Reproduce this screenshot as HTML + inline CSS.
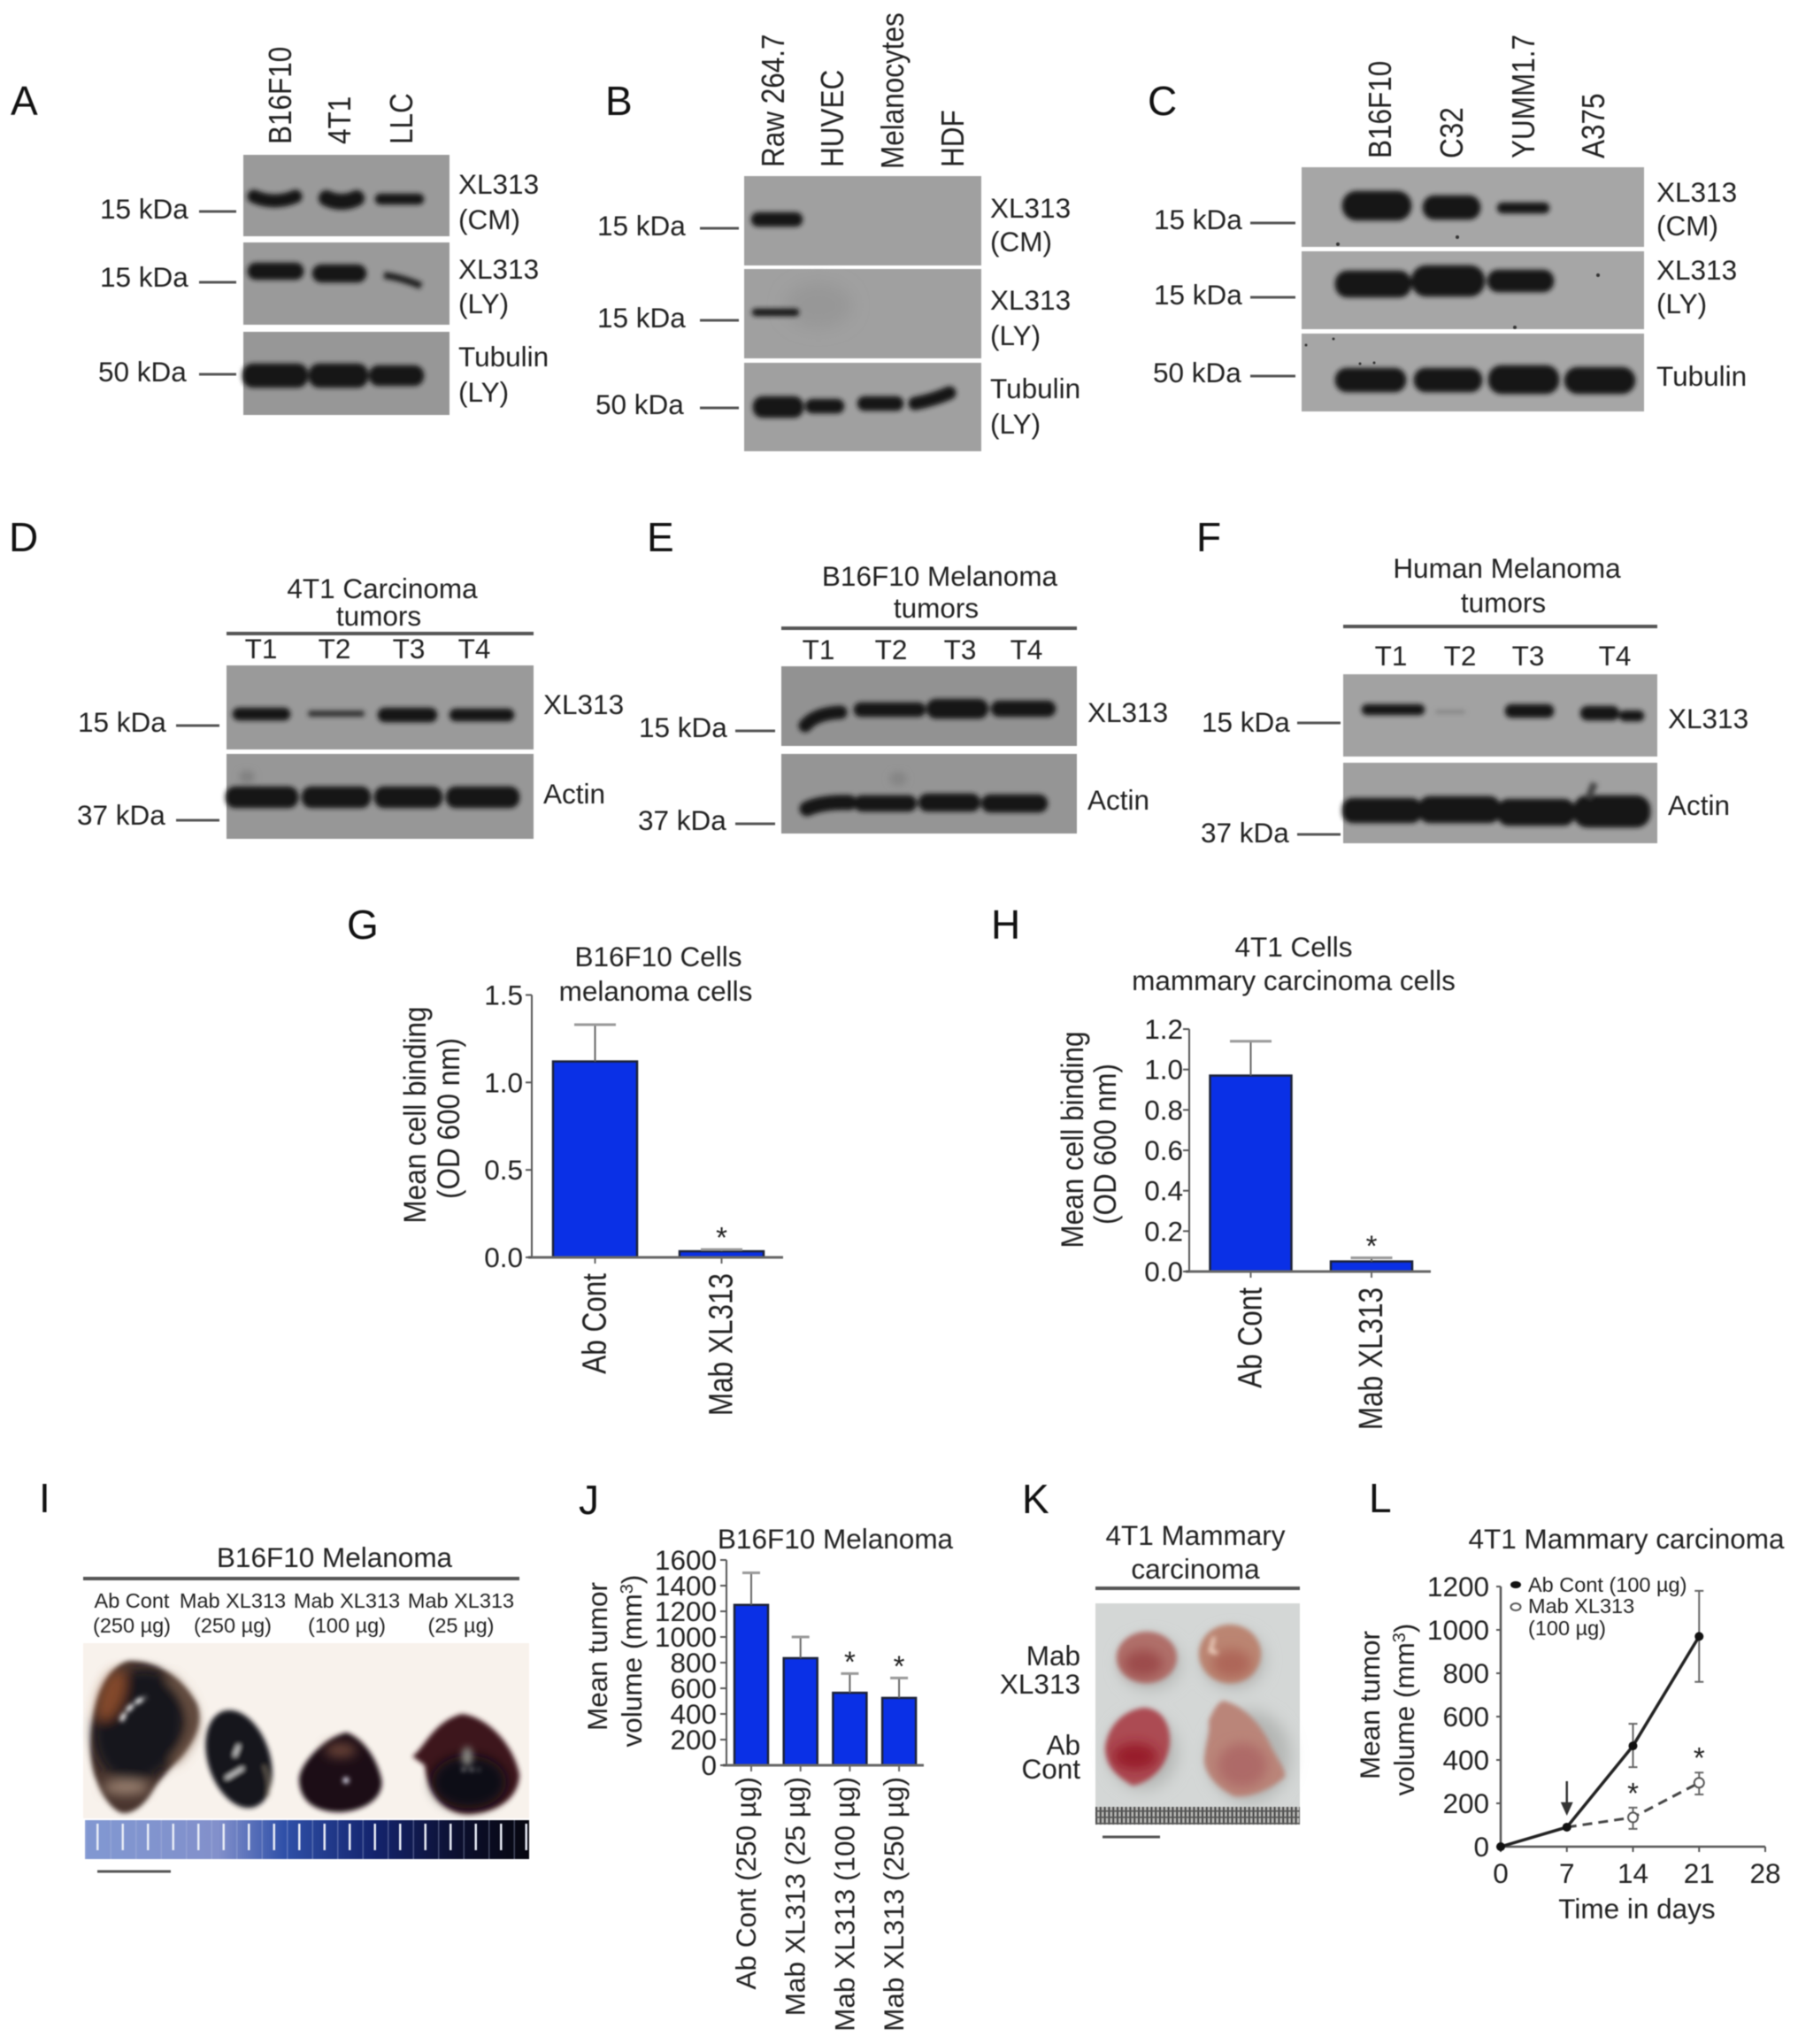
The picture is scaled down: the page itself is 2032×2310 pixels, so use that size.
<!DOCTYPE html>
<html lang="en">
<head>
<meta charset="utf-8">
<title>XL313 figure</title>
<style>
html,body{margin:0;padding:0;background:#fff}
svg{display:block;filter:blur(.6px)}
text{font-family:"Liberation Sans",Arial,sans-serif;fill:#222;font-size:31.5px}
.pl{font-size:46px;fill:#111}
.sm{font-size:23.5px}
.tk{stroke:#555;stroke-width:3;fill:none}
.rl{stroke:#555;stroke-width:4;fill:none}
.bd{fill:#161616;stroke:#161616;stroke-width:2.5}
.fa{fill:#333}
</style>
</head>
<body>
<svg id="figure" xmlns="http://www.w3.org/2000/svg" width="2032" height="2310" viewBox="0 0 2032 2310">
<defs>
<filter id="b2" filterUnits="userSpaceOnUse" x="0" y="0" width="2032" height="2310"><feGaussianBlur stdDeviation="2.6"/></filter>
<filter id="b4" filterUnits="userSpaceOnUse" x="0" y="0" width="2032" height="2310"><feGaussianBlur stdDeviation="4"/></filter>
<filter id="b6" filterUnits="userSpaceOnUse" x="0" y="0" width="2032" height="2310"><feGaussianBlur stdDeviation="6.5"/></filter>
<filter id="b9" filterUnits="userSpaceOnUse" x="0" y="0" width="2032" height="2310"><feGaussianBlur stdDeviation="9"/></filter>
<linearGradient id="rulerGrad" x1="0" x2="1" y1="0" y2="0">
<stop offset="0" stop-color="#8198d2"/><stop offset=".3" stop-color="#8290cb"/><stop offset=".45" stop-color="#2f50a8"/><stop offset=".65" stop-color="#14246e"/><stop offset=".85" stop-color="#0c0f2c"/><stop offset="1" stop-color="#07070f"/>
</linearGradient>
<pattern id="rulerTicks" patternUnits="userSpaceOnUse" x="96" y="2057" width="28.5" height="44">
<rect x="13" y="4" width="2.5" height="30" fill="#e8ecf6"/>
<rect x="0" y="0" width="1.5" height="44" fill="#aeb9e0" opacity=".35"/>
</pattern>
<pattern id="kRuler" patternUnits="userSpaceOnUse" x="1238" y="2042" width="4.8" height="7">
<rect width="4.8" height="7" fill="#b9b9b6"/><rect x="0" width="2" height="7" fill="#444"/><rect y="4" width="4.8" height="1.6" fill="#555"/>
</pattern>
</defs>
<rect width="2032" height="2310" fill="#fff"/>

<!-- Panel A -->
<g>
<text class="pl" x="12" y="130">A</text>
<text transform="translate(329,163) rotate(-90) scale(1,1.15)">B16F10</text>
<text transform="translate(396,163) rotate(-90) scale(1,1.15)">4T1</text>
<text transform="translate(466,163) rotate(-90) scale(1,1.15)">LLC</text>
<rect x="275" y="175" width="233" height="92" fill="#9a9a9a"/>
<rect x="275" y="274" width="233" height="93" fill="#9a9a9a"/>
<rect x="275" y="375" width="233" height="94" fill="#979797"/>
<g filter="url(#b2)">
<path d="M287 222Q310 232 334 222" stroke="#161616" stroke-width="15" stroke-linecap="round" fill="none"/>
<path d="M369 224Q386 232 403 224" stroke="#161616" stroke-width="18" stroke-linecap="round" fill="none"/>
<rect class="bd" x="425" y="220" width="53" height="10" rx="5"/>
<rect class="bd" x="281" y="298" width="61" height="17" rx="8"/>
<rect class="bd" x="354" y="300" width="59" height="18" rx="9"/>
<path d="M434 311 Q455 314 476 323" stroke="#222" stroke-width="8" fill="none"/>
<rect class="bd" x="275" y="412" width="72" height="25" rx="11"/>
<rect class="bd" x="350" y="412" width="65" height="25" rx="11"/>
<rect class="bd" x="418" y="414" width="60" height="21" rx="10"/>
</g>
<text x="113" y="247">15 kDa</text>
<text x="113" y="324">15 kDa</text>
<text x="111" y="431">50 kDa</text>
<path class="tk" d="M225 239H267M225 319H267M225 423H267"/>
<text x="518" y="219">XL313</text>
<text x="518" y="259">(CM)</text>
<text x="518" y="315">XL313</text>
<text x="518" y="354">(LY)</text>
<text x="518" y="414">Tubulin</text>
<text x="518" y="454">(LY)</text>
</g>

<!-- Panel B -->
<g>
<text class="pl" x="684" y="130">B</text>
<text transform="translate(886,189) rotate(-90) scale(1,1.15)">Raw 264.7</text>
<text transform="translate(953,189) rotate(-90) scale(1,1.15)">HUVEC</text>
<text transform="translate(1021,191) rotate(-90) scale(1,1.15)">Melanocytes</text>
<text transform="translate(1089,189) rotate(-90) scale(1,1.15)">HDF</text>
<rect x="841" y="199" width="268" height="101" fill="#a0a0a0"/>
<rect x="841" y="304" width="268" height="101" fill="#a0a0a0"/>
<rect x="841" y="410" width="268" height="100" fill="#a0a0a0"/>
<ellipse cx="925" cy="345" rx="38" ry="26" fill="#979797" filter="url(#b9)"/>
<g filter="url(#b2)">
<rect class="bd" x="850" y="241" width="56" height="14" rx="7"/>
<rect class="bd" x="851" y="350" width="51" height="6" rx="3"/>
<rect class="bd" x="852" y="449" width="55" height="22" rx="10"/>
<rect class="bd" x="911" y="452" width="42" height="14" rx="7"/>
<rect class="bd" x="970" y="449" width="50" height="14" rx="7"/>
<path d="M1034 456 Q1055 452 1073 444" stroke="#161616" stroke-width="15" stroke-linecap="round" fill="none"/>
</g>
<text x="675" y="266">15 kDa</text>
<text x="675" y="370">15 kDa</text>
<text x="673" y="468">50 kDa</text>
<path class="tk" d="M791 258H835M791 362H835M791 461H835"/>
<text x="1119" y="246">XL313</text>
<text x="1119" y="284">(CM)</text>
<text x="1119" y="350">XL313</text>
<text x="1119" y="390">(LY)</text>
<text x="1119" y="450">Tubulin</text>
<text x="1119" y="490">(LY)</text>
</g>

<!-- Panel C -->
<g>
<text class="pl" x="1297" y="130">C</text>
<text transform="translate(1572,179) rotate(-90) scale(1,1.15)">B16F10</text>
<text transform="translate(1653,179) rotate(-90) scale(1,1.15)">C32</text>
<text transform="translate(1734,179) rotate(-90) scale(1,1.15)">YUMM1.7</text>
<text transform="translate(1813,179) rotate(-90) scale(1,1.15)">A375</text>
<rect x="1471" y="189" width="387" height="90" fill="#a6a6a6"/>
<rect x="1471" y="284" width="387" height="88" fill="#a6a6a6"/>
<rect x="1471" y="377" width="387" height="88" fill="#a6a6a6"/>
<g filter="url(#b2)">
<rect class="bd" x="1518" y="217" width="76" height="31" rx="15"/>
<rect class="bd" x="1609" y="222" width="63" height="25" rx="12"/>
<rect class="bd" x="1693" y="230" width="57" height="10" rx="5"/>
<rect class="bd" x="1510" y="307" width="84" height="28" rx="13"/>
<rect class="bd" x="1596" y="301" width="81" height="33" rx="16"/>
<rect class="bd" x="1682" y="306" width="73" height="23" rx="11"/>
<rect class="bd" x="1510" y="417" width="78" height="25" rx="12"/>
<rect class="bd" x="1599" y="417" width="75" height="25" rx="12"/>
<rect class="bd" x="1683" y="414" width="78" height="30" rx="14"/>
<rect class="bd" x="1769" y="416" width="78" height="28" rx="14"/>
</g>
<g fill="#333">
<circle cx="1512" cy="276" r="2"/>
<circle cx="1647" cy="268" r="2"/>
<circle cx="1806" cy="311" r="2"/>
<circle cx="1712" cy="370" r="2"/>
<circle cx="1476" cy="390" r="1.5"/>
<circle cx="1507" cy="383" r="1.5"/>
<circle cx="1553" cy="410" r="1.5"/>
<circle cx="1537" cy="411" r="1.5"/>
</g>
<text x="1304" y="259">15 kDa</text>
<text x="1304" y="344">15 kDa</text>
<text x="1303" y="432">50 kDa</text>
<path class="tk" d="M1413 252H1464M1413 336H1464M1413 425H1464"/>
<text x="1872" y="228">XL313</text>
<text x="1872" y="266">(CM)</text>
<text x="1872" y="316">XL313</text>
<text x="1872" y="354">(LY)</text>
<text x="1872" y="436">Tubulin</text>
</g>

<!-- Panel D -->
<g>
<text class="pl" x="10" y="623">D</text>
<text x="432" y="676" text-anchor="middle">4T1 Carcinoma</text>
<text x="428" y="707" text-anchor="middle">tumors</text>
<path class="rl" d="M256 716H603"/>
<text x="295" y="744" text-anchor="middle">T1</text>
<text x="378" y="744" text-anchor="middle">T2</text>
<text x="462" y="744" text-anchor="middle">T3</text>
<text x="536" y="744" text-anchor="middle">T4</text>
<rect x="256" y="752" width="347" height="95" fill="#9a9a9a"/>
<rect x="256" y="852" width="347" height="96" fill="#979797"/>
<ellipse cx="279" cy="878" rx="9" ry="7" fill="#808080" filter="url(#b4)"/>
<g filter="url(#b2)">
<rect class="bd" x="264" y="801" width="63" height="12" rx="6"/>
<rect class="fa" x="348" y="803" width="64" height="7" rx="3"/>
<rect class="bd" x="428" y="801" width="65" height="14" rx="7"/>
<rect class="bd" x="509" y="802" width="71" height="12" rx="6"/>
<rect class="bd" x="256" y="890" width="80" height="22" rx="10"/>
<rect class="bd" x="342" y="890" width="76" height="22" rx="10"/>
<rect class="bd" x="424" y="890" width="75" height="22" rx="10"/>
<rect class="bd" x="505" y="890" width="81" height="22" rx="10"/>
</g>
<text x="88" y="827">15 kDa</text>
<text x="87" y="932">37 kDa</text>
<path class="tk" d="M199 820H248M199 927H248"/>
<text x="614" y="807">XL313</text>
<text x="614" y="908">Actin</text>
</g>

<!-- Panel E -->
<g>
<text class="pl" x="731" y="623">E</text>
<text x="1062" y="662" text-anchor="middle">B16F10 Melanoma</text>
<text x="1058" y="698" text-anchor="middle">tumors</text>
<path class="rl" d="M883 710H1217"/>
<text x="925" y="745" text-anchor="middle">T1</text>
<text x="1007" y="745" text-anchor="middle">T2</text>
<text x="1085" y="745" text-anchor="middle">T3</text>
<text x="1160" y="745" text-anchor="middle">T4</text>
<rect x="883" y="753" width="334" height="90" fill="#929292"/>
<rect x="883" y="852" width="334" height="90" fill="#959595"/>
<ellipse cx="1015" cy="880" rx="10" ry="8" fill="#858585" filter="url(#b4)"/>
<g filter="url(#b2)">
<path d="M910 820 Q922 806 950 805" stroke="#161616" stroke-width="15" stroke-linecap="round" fill="none"/>
<rect class="bd" x="966" y="795" width="79" height="14" rx="7"/>
<rect class="bd" x="1048" y="791" width="68" height="20" rx="10"/>
<rect class="bd" x="1121" y="793" width="71" height="16" rx="8"/>
<path d="M912 914 Q930 906 960 907" stroke="#161616" stroke-width="17" stroke-linecap="round" fill="none"/>
<rect class="bd" x="966" y="900" width="69" height="16" rx="8"/>
<rect class="bd" x="1039" y="898" width="68" height="18" rx="9"/>
<rect class="bd" x="1110" y="899" width="73" height="18" rx="9"/>
</g>
<text x="722" y="833">15 kDa</text>
<text x="721" y="938">37 kDa</text>
<path class="tk" d="M831 826H876M831 931H876"/>
<text x="1229" y="816">XL313</text>
<text x="1229" y="915">Actin</text>
</g>

<!-- Panel F -->
<g>
<text class="pl" x="1352" y="623">F</text>
<text x="1703" y="653" text-anchor="middle">Human Melanoma</text>
<text x="1699" y="692" text-anchor="middle">tumors</text>
<path class="rl" d="M1518 708H1873"/>
<text x="1572" y="752" text-anchor="middle">T1</text>
<text x="1650" y="752" text-anchor="middle">T2</text>
<text x="1727" y="752" text-anchor="middle">T3</text>
<text x="1825" y="752" text-anchor="middle">T4</text>
<rect x="1518" y="762" width="355" height="93" fill="#a2a2a2"/>
<rect x="1518" y="862" width="355" height="91" fill="#a0a0a0"/>
<g filter="url(#b2)">
<rect class="bd" x="1540" y="797" width="69" height="10" rx="5"/>
<rect x="1622" y="803" width="34" height="3" rx="1.5" fill="#7a7a7a"/>
<rect class="bd" x="1702" y="797" width="53" height="13" rx="6"/>
<rect class="bd" x="1787" y="799" width="42" height="14" rx="7"/>
<rect class="bd" x="1831" y="804" width="26" height="10" rx="5"/>
<rect class="bd" x="1518" y="903" width="88" height="26" rx="11"/>
<rect class="bd" x="1604" y="901" width="91" height="28" rx="12"/>
<rect class="bd" x="1693" y="904" width="86" height="28" rx="12"/>
<rect class="bd" x="1779" y="900" width="85" height="34" rx="15"/>
<path d="M1795 902L1802 885" stroke="#444" stroke-width="8" fill="none"/>
</g>
<text x="1358" y="827">15 kDa</text>
<text x="1357" y="952">37 kDa</text>
<path class="tk" d="M1466 817H1515M1466 943H1515"/>
<text x="1885" y="823">XL313</text>
<text x="1885" y="921">Actin</text>
</g>

<!-- Panel G static labels -->
<g>
<text class="pl" x="392" y="1061">G</text>
<text x="744" y="1092" text-anchor="middle">B16F10 Cells</text>
<text x="741" y="1131" text-anchor="middle">melanoma cells</text>
<text text-anchor="middle" transform="translate(481,1260) rotate(-90) scale(1,1.12)">Mean cell binding</text>
<text text-anchor="middle" transform="translate(519,1264) rotate(-90) scale(1,1.12)">(OD 600 nm)</text>
</g>
<g id="chart-g"></g>

<!-- Panel H static labels -->
<g>
<text class="pl" x="1120" y="1061">H</text>
<text x="1462" y="1081" text-anchor="middle">4T1 Cells</text>
<text x="1462" y="1119" text-anchor="middle">mammary carcinoma cells</text>
<text text-anchor="middle" transform="translate(1224,1288) rotate(-90) scale(1,1.12)">Mean cell binding</text>
<text text-anchor="middle" transform="translate(1261,1293) rotate(-90) scale(1,1.12)">(OD 600 nm)</text>
</g>
<g id="chart-h"></g>

<!-- Panel I -->
<g>
<text class="pl" x="44" y="1709">I</text>
<text x="378" y="1771" text-anchor="middle">B16F10 Melanoma</text>
<path class="rl" d="M94 1784H587" stroke="#333"/>
<text class="sm" x="149" y="1817" text-anchor="middle">Ab Cont</text>
<text class="sm" x="149" y="1845" text-anchor="middle">(250 µg)</text>
<text class="sm" x="263" y="1817" text-anchor="middle">Mab XL313</text>
<text class="sm" x="263" y="1845" text-anchor="middle">(250 µg)</text>
<text class="sm" x="392" y="1817" text-anchor="middle">Mab XL313</text>
<text class="sm" x="392" y="1845" text-anchor="middle">(100 µg)</text>
<text class="sm" x="521" y="1817" text-anchor="middle">Mab XL313</text>
<text class="sm" x="521" y="1845" text-anchor="middle">(25 µg)</text>
<rect x="94" y="1857" width="504" height="198" fill="#f8f2ec"/>
<g>
<path filter="url(#b2)" d="M146 1877C175 1876 205 1895 222 1925C230 1945 222 1965 205 1985C190 2000 180 2012 172 2025C160 2045 145 2052 135 2048C120 2040 112 2020 108 2010C100 1990 102 1960 105 1945C108 1915 125 1880 146 1877Z" fill="#4a362e"/>
<g filter="url(#b6)">
<ellipse cx="157" cy="1950" rx="50" ry="64" transform="rotate(15 157 1950)" fill="#12121a"/>
<ellipse cx="126" cy="1916" rx="13" ry="30" transform="rotate(20 126 1916)" fill="#84482a"/>
<path d="M190 1895Q224 1925 220 1955Q212 1978 195 1992" stroke="#8a6d58" stroke-width="6" fill="none"/>
<ellipse cx="142" cy="2020" rx="26" ry="8" fill="#9a8070"/>
</g>
<path filter="url(#b2)" d="M137 1945Q143 1928 165 1918" stroke="#ffffff" stroke-width="5" stroke-dasharray="10 3" fill="none"/>
</g>
<g filter="url(#b2)">
<ellipse cx="270" cy="1988" rx="35" ry="57" transform="rotate(-18 270 1988)" fill="#15141e"/>
<path d="M255 2010L275 1998M265 1985L270 1972" stroke="#eee" stroke-width="3" fill="none"/>
<path d="M298 1995Q306 2015 302 2030" stroke="#6c6458" stroke-width="3" fill="none"/>
</g>
<g>
<path filter="url(#b2)" d="M392 1958C410 1965 425 1985 431 2010C435 2030 415 2046 385 2048C355 2048 338 2035 338 2010C340 1990 370 1962 392 1958Z" fill="#1c1016"/>
<ellipse filter="url(#b6)" cx="385" cy="1978" rx="18" ry="8" fill="#6c4438"/>
<circle filter="url(#b2)" cx="391" cy="2012" r="3.5" fill="#eef"/>
</g>
<g>
<path filter="url(#b2)" d="M522 1937C550 1940 580 1970 587 2005C587 2030 565 2048 530 2050C500 2050 483 2025 480 1995L466 1985C480 1975 490 1945 522 1937Z" fill="#3c161c"/>
<ellipse filter="url(#b6)" cx="530" cy="2014" rx="42" ry="30" fill="#100e16"/>
<ellipse filter="url(#b4)" cx="528" cy="1985" rx="6" ry="11" fill="#8a8a84"/>
<path filter="url(#b2)" d="M522 2000H542" stroke="#ddd" stroke-width="2.5" stroke-dasharray="4 5" fill="none"/>
</g>
<rect x="96" y="2057" width="502" height="44" fill="url(#rulerGrad)"/>
<rect x="96" y="2057" width="502" height="44" fill="url(#rulerTicks)"/>
<path class="tk" d="M110 2115H193"/>
</g>

<!-- Panel J static labels -->
<g>
<text class="pl" x="654" y="1711">J</text>
<text x="944" y="1750" text-anchor="middle">B16F10 Melanoma</text>
<text text-anchor="middle" transform="translate(686,1872) rotate(-90)">Mean tumor</text>
<text text-anchor="middle" transform="translate(725,1877) rotate(-90)">volume (mm<tspan dy="-10" style="font-size:20px">3</tspan><tspan dy="10">)</tspan></text>
</g>
<g id="chart-j"></g>

<!-- Panel K -->
<g>
<text class="pl" x="1155" y="1710">K</text>
<text x="1351" y="1746" text-anchor="middle">4T1 Mammary</text>
<text x="1351" y="1784" text-anchor="middle">carcinoma</text>
<path class="rl" d="M1238 1795H1469"/>
<rect x="1238" y="1812" width="231" height="230" fill="#d4d7d6"/>
<g filter="url(#b9)" fill="#b4b6b4">
<ellipse cx="1300" cy="1880" rx="34" ry="29"/>
<ellipse cx="1394" cy="1876" rx="35" ry="32"/>
<ellipse cx="1292" cy="1980" rx="38" ry="42"/>
<ellipse cx="1412" cy="1985" rx="46" ry="52"/>
</g>
<g filter="url(#b2)">
<ellipse cx="1296" cy="1873" rx="34" ry="29" fill="#b0706a"/>
<ellipse cx="1390" cy="1869" rx="35" ry="33" fill="#bb8572"/>
<path d="M1292 1930C1310 1930 1323 1945 1322 1970C1320 1995 1300 2015 1280 2018C1262 2008 1250 1995 1249 1975C1252 1950 1270 1933 1292 1930Z" fill="#ac4c52"/>
<path d="M1382 1922C1400 1925 1425 1945 1437 1975C1445 1990 1453 2000 1452 2008C1440 2020 1415 2032 1395 2030C1375 2020 1362 2005 1361 1990C1362 1970 1368 1960 1366 1945C1370 1935 1375 1925 1382 1922Z" fill="#ba8579"/>
</g>
<g filter="url(#b6)">
<ellipse cx="1292" cy="1880" rx="22" ry="15" fill="#9c4c4c"/>
<ellipse cx="1392" cy="1880" rx="22" ry="16" fill="#ae6658"/>
<ellipse cx="1283" cy="1985" rx="25" ry="15" fill="#981f2a"/>
<ellipse cx="1404" cy="1995" rx="28" ry="25" fill="#ae6a68"/>
</g>
<path filter="url(#b2)" d="M1372 1850L1368 1866L1376 1868" stroke="#f8e0d0" stroke-width="3.5" fill="none"/>
<rect x="1238" y="2042" width="231" height="20" fill="url(#kRuler)"/>
<path class="tk" d="M1246 2076H1311"/>
<text x="1221" y="1882" text-anchor="end">Mab</text>
<text x="1221" y="1914" text-anchor="end">XL313</text>
<text x="1221" y="1983" text-anchor="end">Ab</text>
<text x="1221" y="2010" text-anchor="end">Cont</text>
</g>

<!-- Panel L static labels -->
<g>
<text class="pl" x="1547" y="1709">L</text>
<text x="1838" y="1750" text-anchor="middle">4T1 Mammary carcinoma</text>
<text text-anchor="middle" transform="translate(1559,1927) rotate(-90)">Mean tumor</text>
<text text-anchor="middle" transform="translate(1598,1932) rotate(-90)">volume (mm<tspan dy="-10" style="font-size:20px">3</tspan><tspan dy="10">)</tspan></text>
<text x="1850" y="2168" text-anchor="middle">Time in days</text>
<ellipse cx="1713" cy="1791" rx="6" ry="4" fill="#111"/>
<text class="sm" x="1727" y="1799">Ab Cont (100 µg)</text>
<ellipse cx="1713" cy="1816" rx="5.5" ry="4" fill="#fff" stroke="#555" stroke-width="2"/>
<text class="sm" x="1727" y="1823">Mab XL313</text>
<text class="sm" x="1727" y="1848">(100 µg)</text>
</g>
<g id="chart-l"></g>
</svg>

<script>
const gCategories = ['Ab Cont', 'Mab XL313'];
const gMeans = [1.12, 0.035];
const gErrorTops = [1.33, 0.045];
const gStars = [false, true];
const gTickValues = [0, 0.5, 1, 1.5];
const gTickLabels = ['0.0', '0.5', '1.0', '1.5'];

const hCategories = ['Ab Cont', 'Mab XL313'];
const hMeans = [0.97, 0.05];
const hErrorTops = [1.14, 0.068];
const hStars = [false, true];
const hTickValues = [0, 0.2, 0.4, 0.6, 0.8, 1, 1.2];
const hTickLabels = ['0.0', '0.2', '0.4', '0.6', '0.8', '1.0', '1.2'];

const jCategories = ['Ab Cont (250 µg)', 'Mab XL313 (25 µg)', 'Mab XL313 (100 µg)', 'Mab XL313 (250 µg)'];
const jMeans = [1250, 835, 565, 525];
const jErrorTops = [1500, 1000, 715, 680];
const jStars = [false, false, true, true];
const jTickValues = [0, 200, 400, 600, 800, 1000, 1200, 1400, 1600];
const jTickLabels = ['0', '200', '400', '600', '800', '1000', '1200', '1400', '1600'];

const lDays = [0, 7, 14, 21];
const lControl = [0, 90, 465, 970];
const lControlLow = [0, 90, 367, 760];
const lControlHigh = [0, 90, 567, 1180];
const lMab = [0, 90, 135, 295];
const lMabLow = [0, 90, 82, 241];
const lMabHigh = [0, 90, 180, 342];
const lStars = [false, false, true, true];
const lXTicks = [0, 7, 14, 21, 28];
const lYTicks = [0, 200, 400, 600, 800, 1000, 1200];

const NS = 'http://www.w3.org/2000/svg';

function make(tag, attrs, parent) {
  const el = document.createElementNS(NS, tag);
  for (const k in attrs) el.setAttribute(k, attrs[k]);
  parent.appendChild(el);
  return el;
}

function drawBarChart(id, cfg, categories, means, errorTops, stars, tickValues, tickLabels) {
  const root = document.getElementById(id);
  const y = v => cfg.y0 - v * cfg.yScale;
  const x = i => cfg.firstCenter + i * cfg.step;

  means.forEach((m, i) => {
    const bar = make('rect', { x: x(i) - cfg.barWidth / 2, y: y(m), width: cfg.barWidth, height: cfg.y0 - y(m), fill: '#0a30e6', stroke: '#1c2238', 'stroke-width': 2.5 }, root);
    
    

    const stem = make('line', { x1: x(i), x2: x(i), y1: y(m), y2: y(errorTops[i]), stroke: '#666', 'stroke-width': 2 }, root);
    
    

    const cap = make('line', { x1: x(i) - cfg.capWidth / 2, x2: x(i) + cfg.capWidth / 2, y1: y(errorTops[i]), y2: y(errorTops[i]), stroke: '#999', 'stroke-width': 3 }, root);
    
    

    const tick = make('line', { x1: x(i), x2: x(i), y1: cfg.y0, y2: cfg.y0 + 7, stroke: '#666', 'stroke-width': 2 }, root);
    
    

    const label = make('text', { transform: 'translate(' + (x(i) + cfg.labelOffset) + ',' + (cfg.y0 + cfg.labelGap) + ') rotate(-90) scale(1,' + cfg.labelStretch + ')', 'text-anchor': 'end' }, root);
    
    
    label.textContent = categories[i];

    if (stars[i]) {
      const star = make('text', { x: x(i), y: y(errorTops[i]) - 2, 'text-anchor': 'middle' }, root);
      
      
      star.textContent = '*';
      star.style.fontSize = '33px';
    }
  });

  const yAxis = make('line', { x1: cfg.x0, x2: cfg.x0, y1: cfg.y0, y2: y(tickValues[tickValues.length - 1]), stroke: '#555', 'stroke-width': 2 }, root);
  
  

  const xAxis = make('line', { x1: cfg.x0 - 4, x2: cfg.xEnd, y1: cfg.y0, y2: cfg.y0, stroke: '#666', 'stroke-width': 3 }, root);
  
  

  tickValues.forEach((v, i) => {
    const tick = make('line', { x1: cfg.x0 - 7, x2: cfg.x0, y1: y(v), y2: y(v), stroke: '#555', 'stroke-width': 2 }, root);
    
    

    const label = make('text', { x: cfg.x0 - cfg.tickGap, y: y(v) + 11, 'text-anchor': 'end' }, root);
    
    
    label.textContent = tickLabels[i];
  });
}

drawBarChart('chart-g', { x0: 601, xEnd: 885, y0: 1421, yScale: 197.7, firstCenter: 672.5, step: 143, barWidth: 95, capWidth: 47, labelGap: 18, tickGap: 10, labelOffset: 12, labelStretch: 1.2 }, gCategories, gMeans, gErrorTops, gStars, gTickValues, gTickLabels);
drawBarChart('chart-h', { x0: 1344, xEnd: 1617, y0: 1437, yScale: 228.3, firstCenter: 1413.5, step: 136.5, barWidth: 92, capWidth: 47, labelGap: 18, tickGap: 7, labelOffset: 12, labelStretch: 1.2 }, hCategories, hMeans, hErrorTops, hStars, hTickValues, hTickLabels);
drawBarChart('chart-j', { x0: 821, xEnd: 1044, y0: 1995, yScale: 0.145, firstCenter: 849, step: 55.7, barWidth: 38, capWidth: 20, labelGap: 13, tickGap: 11, labelOffset: 5, labelStretch: 1 }, jCategories, jMeans, jErrorTops, jStars, jTickValues, jTickLabels);

function drawLineChart() {
  const root = document.getElementById('chart-l');
  const x = d => 1696 + d * (299 / 28);
  const y = v => 2087 - v * (294 / 1200);

  const yAxis = make('line', { x1: x(0), x2: x(0), y1: y(0), y2: y(1200), stroke: '#555', 'stroke-width': 2.5 }, root);
  
  

  const xAxis = make('line', { x1: x(0), x2: x(28), y1: y(0), y2: y(0), stroke: '#555', 'stroke-width': 2.5 }, root);
  
  

  lXTicks.forEach(d => {
    const tick = make('line', { x1: x(d), x2: x(d), y1: y(0), y2: y(0) + 6, stroke: '#555', 'stroke-width': 2 }, root);
    
    

    const label = make('text', { x: x(d), y: 2128, 'text-anchor': 'middle' }, root);
    
    
    label.textContent = String(d);
  });

  lYTicks.forEach(v => {
    const tick = make('line', { x1: x(0) - 5, x2: x(0), y1: y(v), y2: y(v), stroke: '#555', 'stroke-width': 2 }, root);
    
    

    const label = make('text', { x: 1683, y: y(v) + 11, 'text-anchor': 'end' }, root);
    
    
    label.textContent = String(v);
  });

  lDays.forEach((d, i) => {
    [[lControlLow, lControlHigh], [lMabLow, lMabHigh]].forEach(pair => {
      if (pair[0][i] === pair[1][i]) return;
      const bar = make('path', { d: 'M' + (x(d) - 5) + ' ' + y(pair[1][i]) + 'H' + (x(d) + 5) + 'M' + x(d) + ' ' + y(pair[1][i]) + 'V' + y(pair[0][i]) + 'M' + (x(d) - 5) + ' ' + y(pair[0][i]) + 'H' + (x(d) + 5), stroke: '#666', 'stroke-width': 2, fill: 'none' }, root);
      
      
    });
  });

  const mabPts = lDays.slice(1).map((d, i) => x(d) + ',' + y(lMab[i + 1])).join(' ');
  const mabLine = make('polyline', { points: mabPts, fill: 'none', stroke: '#444', 'stroke-width': 3, 'stroke-dasharray': '11 7' }, root);
  
  

  const ctrlPts = lDays.map((d, i) => x(d) + ',' + y(lControl[i])).join(' ');
  const ctrlLine = make('polyline', { points: ctrlPts, fill: 'none', stroke: '#222', 'stroke-width': 3.5 }, root);
  
  

  lDays.forEach((d, i) => {
    if (i >= 2) {
      const open = make('circle', { cx: x(d), cy: y(lMab[i]), r: 5.5, fill: '#fff', stroke: '#555', 'stroke-width': 2 }, root);
      
      
    }
    const solid = make('circle', { cx: x(d), cy: y(lControl[i]), r: 5, fill: '#111' }, root);
    
    

    if (lStars[i]) {
      const star = make('text', { x: x(d), y: y(lMabHigh[i]) - 5, 'text-anchor': 'middle' }, root);
      
      
      star.textContent = '*';
      star.style.fontSize = '33px';
    }
  });

  const arrow = make('path', { d: 'M' + x(7) + ' 2013V2040M' + (x(7) - 5) + ' 2038L' + x(7) + ' 2049L' + (x(7) + 5) + ' 2038Z', stroke: '#333', 'stroke-width': 2.5, fill: '#333' }, root);
  
  
}

drawLineChart();
</script>
</body>
</html>
